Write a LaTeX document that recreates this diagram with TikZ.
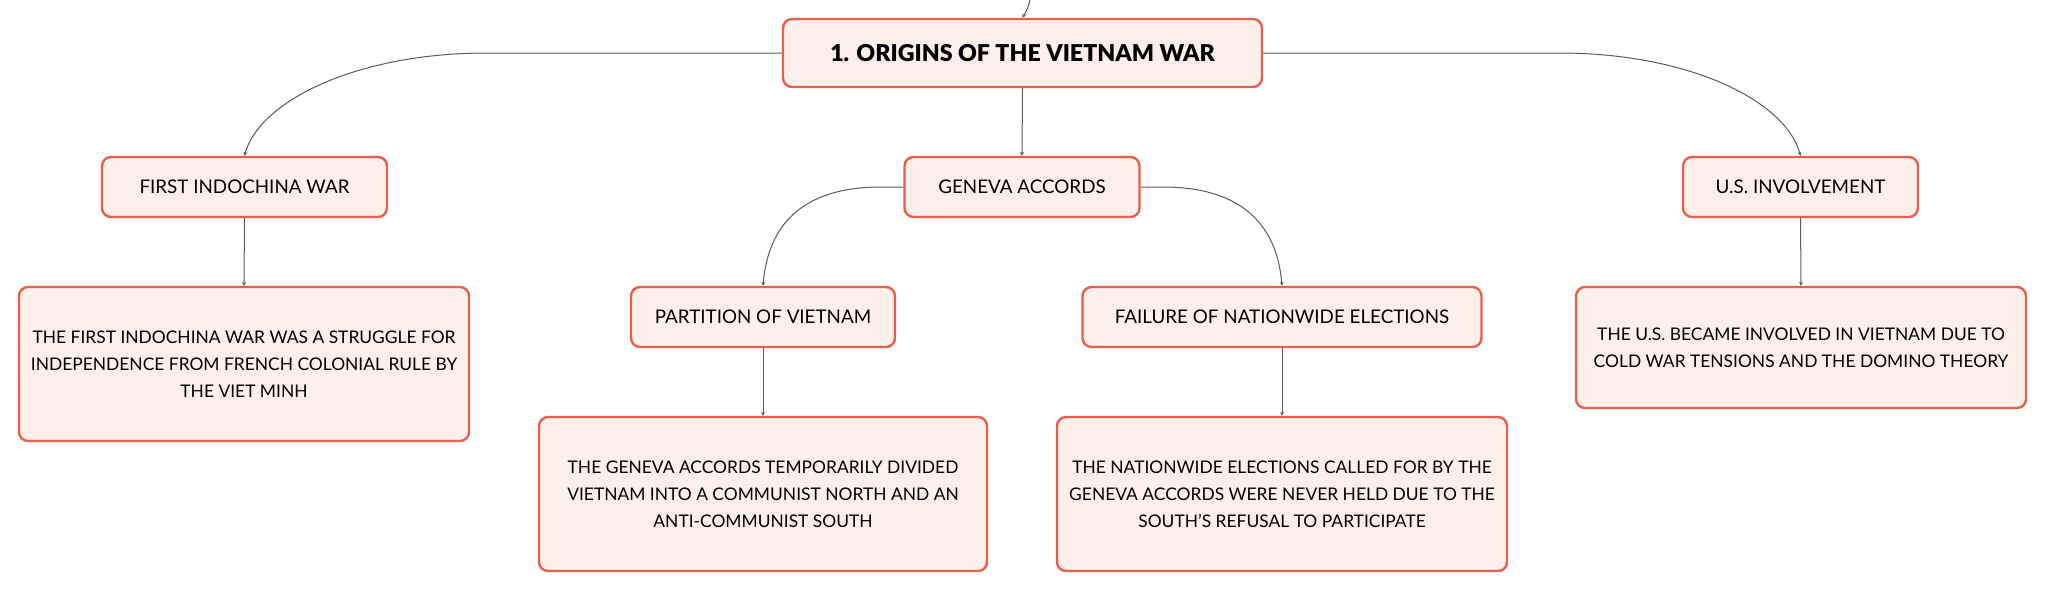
\documentclass[tikz,border=0pt]{standalone}
\usepackage{fontspec}
\setmainfont{Lato}
\newfontfamily\heavyfont{Lato Black}
\usetikzlibrary{arrows.meta}
\definecolor{boxline}{HTML}{E8604A}
\definecolor{boxfill}{HTML}{FDF0EB}
\definecolor{linkgray}{HTML}{5A5A5A}
\begin{document}
\begin{tikzpicture}[x=0.5pt,y=-0.5pt,
  card/.style={draw=boxline, fill=boxfill, line width=1.2pt, rounded corners=4.5pt,
    align=center, inner sep=0pt},
  topic/.style={card, minimum height=30pt, font=\fontsize{9.4}{12}\selectfont},
  detail/.style={card, minimum height=77pt, font=\fontsize{8.7}{13.5}\selectfont},
  link/.style={draw=linkgray, line width=0.5pt, -{Stealth[length=2pt,width=2pt]}}]
\useasboundingbox (0,0) rectangle (2046,591);
\node[card, minimum width=239.5pt, minimum height=34pt, font=\fontsize{11.6}{15}\heavyfont] (root) at (1022.5,53) {1. ORIGINS OF THE VIETNAM WAR};
\node[topic, minimum width=142.5pt] (fiw) at (244.5,187) {FIRST INDOCHINA WAR};
\node[topic, minimum width=117.5pt] (geneva) at (1022,187) {GENEVA ACCORDS};
\node[topic, minimum width=117.5pt] (usinv) at (1800.5,187) {U.S. INVOLVEMENT};
\node[topic, minimum width=132pt] (partition) at (763,317) {PARTITION OF VIETNAM};
\node[topic, minimum width=199.5pt] (failure) at (1282,317) {FAILURE OF NATIONWIDE ELECTIONS};
\node[detail, minimum width=225pt] (fiwtext) at (244,364) {THE FIRST INDOCHINA WAR WAS A STRUGGLE FOR\\INDEPENDENCE FROM FRENCH COLONIAL RULE BY\\THE VIET MINH};
\node[detail, minimum width=224pt] (partext) at (763,494) {THE GENEVA ACCORDS TEMPORARILY DIVIDED\\VIETNAM INTO A COMMUNIST NORTH AND AN\\ANTI-COMMUNIST SOUTH};
\node[detail, minimum width=225pt] (failtext) at (1282,494) {THE NATIONWIDE ELECTIONS CALLED FOR BY THE\\GENEVA ACCORDS WERE NEVER HELD DUE TO THE\\SOUTH'S REFUSAL TO PARTICIPATE};
\node[detail, minimum width=225pt, minimum height=60.5pt] (ustext) at (1801,347.5) {THE U.S. BECAME INVOLVED IN VIETNAM DUE TO\\COLD WAR TENSIONS AND THE DOMINO THEORY};
% links
\coordinate (parent) at (1030,0);
\draw[link] (parent) .. controls (1028,8) .. (root.north);
\draw[link] (root.west) -- ++(-295,0) .. controls +(-130,0) and +(15,-55) .. (fiw.north);
\draw[link] (root.east) -- ++(296,0) .. controls +(130,0) and +(-15,-55) .. (usinv.north);
\draw[link] (root.south) -- (geneva.north);
\draw[link] (geneva.west) -- ++(-22,0) .. controls +(-80,0) and +(5,-60) .. (partition.north);
\draw[link] (geneva.east) -- ++(22,0) .. controls +(80,0) and +(-5,-60) .. (failure.north);
\draw[link] (fiw.south) -- (fiwtext.north);
\draw[link] (usinv.south) -- (ustext.north);
\draw[link] (partition.south) -- (partext.north);
\draw[link] (failure.south) -- (failtext.north);
\end{tikzpicture}
\end{document}
